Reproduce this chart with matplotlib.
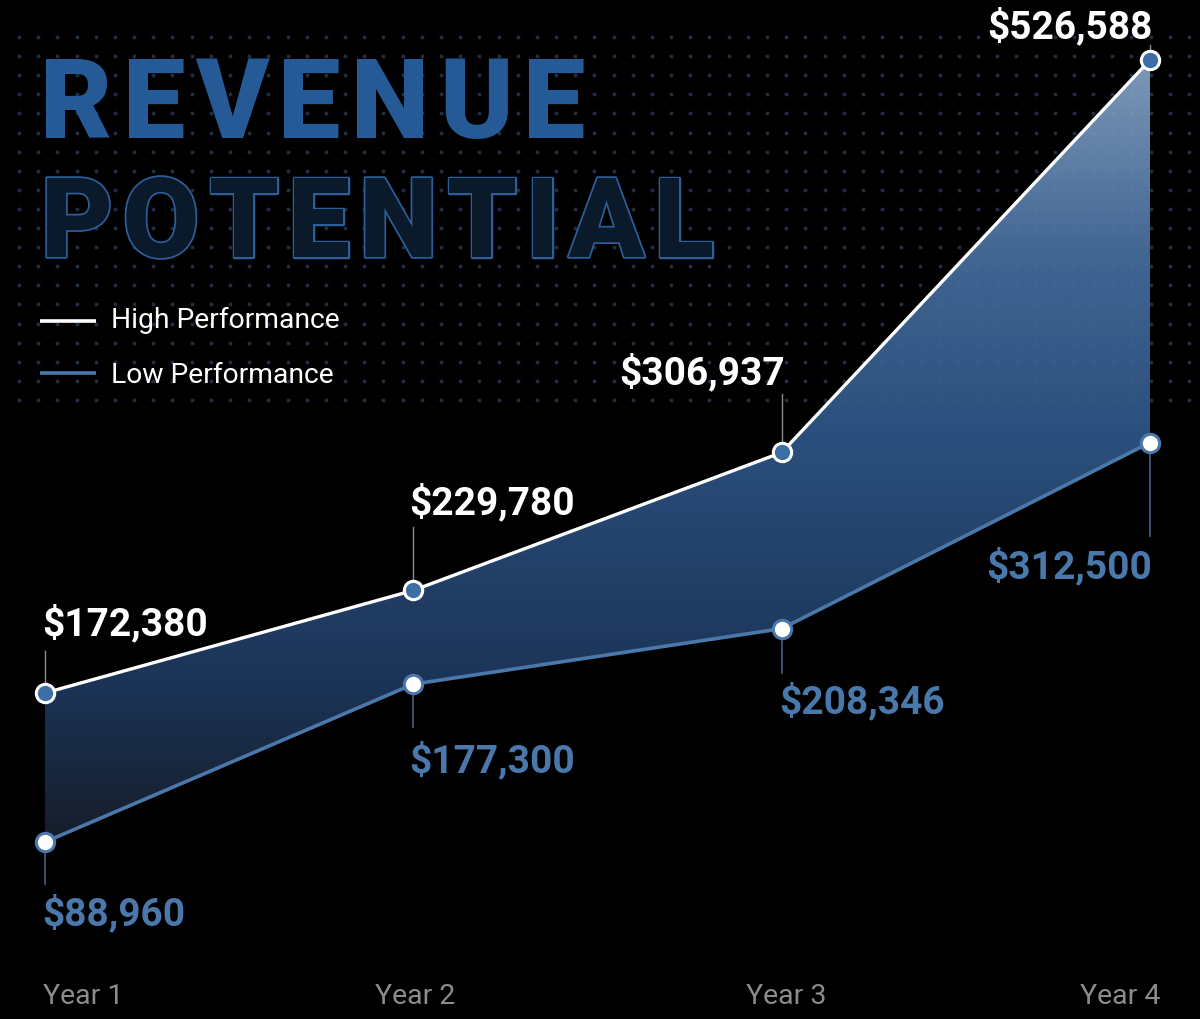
import numpy as np
import matplotlib
matplotlib.use("Agg")
import matplotlib.pyplot as plt
import matplotlib.transforms as mtransforms
import matplotlib.patheffects as pe
from matplotlib.colors import LinearSegmentedColormap
from matplotlib.patches import Polygon

plt.rcParams['font.family'] = ['Roboto', 'DejaVu Sans']

# ---------------- data ----------------
years = ["Year 1", "Year 2", "Year 3", "Year 4"]
high = [172380, 229780, 306937, 526588]
low = [88960, 177300, 208346, 312500]
series_names = ["High Performance", "Low Performance"]
title_lines = ["REVENUE", "POTENTIAL"]

# ---------------- layout / style ----------------
W, H = 1200, 1020
BG = "#000000"
WHITE = "#ffffff"
BLUE = "#4a78ab"
MARK_BLUE = "#3d6ea5"
TITLE_BLUE = "#255a96"
GRAY = "#8c8c8c"

# label offsets in pixels (dx, dy to baseline), and alignment
high_off = [(-3, 59), (-4, 77), (3, 69), (3, 23)]
high_ha = ["left", "left", "right", "right"]
low_off = [(-3, -82), (-4, -87), (-2, -84), (2, -135)]
low_ha = ["left", "left", "left", "right"]
high_lead = [42, 63, 58, 15]
low_lead = [42, 43, 44, 93]

fig = plt.figure(figsize=(W / 100, H / 100), dpi=100, facecolor=BG)

# background axes in pixel coordinates
bg = fig.add_axes([0, 0, 1, 1])
bg.set_xlim(0, W)
bg.set_ylim(H, 0)
bg.axis("off")
bg.set_facecolor(BG)

# dotted grid
dx = np.linspace(19, 1189, 62)
dy = np.arange(38, 402, 19.1)
gx, gy = np.meshgrid(dx, dy)
bg.scatter(gx.ravel(), gy.ravel(), s=8, color="#1f2e42", linewidths=0, zorder=1)

# main axes
ax = fig.add_axes([0, 0, 1, 1], facecolor="none")
ax.axis("off")
ppu_x = (1150 - 45) / 3.0
ax.set_xlim(-45 / ppu_x, (W - 45) / ppu_x)
ppv = (843 - 61) / (526588 - 88960)
ax.set_ylim(88960 - (H - 843) / ppv, 88960 + 843 / ppv)

x = np.arange(len(years))

# gradient fill between lines
ylo, yhi = ax.get_ylim()
def v_of_px(p):
    return 88960 + (843 - p) / ppv
stops_px = [845, 690, 450, 250, 60]
stops_col = ["#19202e", "#1f3a60", "#2f578a", "#4b73a5", "#8cabce"]
vals = [v_of_px(p) for p in stops_px]
pos = [(v - ylo) / (yhi - ylo) for v in vals]
pos = [0.0] + pos + [1.0]
cols = [stops_col[0]] + stops_col + [stops_col[-1]]
cmap = LinearSegmentedColormap.from_list("g", list(zip(pos, cols)))
grad = np.linspace(0, 1, 512).reshape(-1, 1)
xl = ax.get_xlim()
im = ax.imshow(grad, extent=[xl[0], xl[1], ylo, yhi], origin="lower",
               aspect="auto", cmap=cmap, zorder=2, alpha=0.9, interpolation="bilinear")
verts = np.column_stack([np.concatenate([x, x[::-1]]),
                         np.concatenate([high, low[::-1]])])
poly = Polygon(verts, closed=True, facecolor="none", edgecolor="none",
               transform=ax.transData)
ax.add_patch(poly)
im.set_clip_path(poly)
ax.set_xlim(xl)
ax.set_ylim(ylo, yhi)

# leader lines
for i in range(len(years)):
    ax.plot([x[i], x[i]], [high[i], high[i] + high_lead[i] / ppv],
            color="#8a8a8a", lw=1.0, zorder=3)
    ax.plot([x[i], x[i]], [low[i], low[i] - low_lead[i] / ppv],
            color="#3d5878", lw=1.3, zorder=3)

# lines
ax.plot(x, high, color=WHITE, lw=2.4, zorder=4, solid_capstyle="round")
ax.plot(x, low, color=BLUE, lw=2.6, zorder=4, solid_capstyle="round")
ax.scatter(x, high, s=175, color=MARK_BLUE, edgecolors=WHITE, linewidths=2.2, zorder=5)
ax.scatter(x, low, s=175, color=WHITE, edgecolors=BLUE, linewidths=2.2, zorder=5)

# value labels
for i in range(len(years)):
    ax.annotate(f"${high[i]:,}", xy=(x[i], high[i]), xytext=high_off[i],
                textcoords="offset pixels", ha=high_ha[i], va="baseline",
                fontsize=28, fontweight="bold", color=WHITE, zorder=6)
    ax.annotate(f"${low[i]:,}", xy=(x[i], low[i]), xytext=low_off[i],
                textcoords="offset pixels", ha=low_ha[i], va="baseline",
                fontsize=28, fontweight="bold", color=BLUE, zorder=6)

# year labels
trans = mtransforms.blended_transform_factory(ax.transData, bg.transData)
year_ha = ["left", "center", "center", "right"]
year_dx = [-2 / ppu_x, 2 / ppu_x, 5 / ppu_x, 10 / ppu_x]
for i, yl in enumerate(years):
    ax.text(x[i] + year_dx[i], 1004, yl, transform=trans, ha=year_ha[i],
            va="baseline", fontsize=20.5, color=GRAY)

# legend
bg.plot([40, 96], [322, 322], color=WHITE, lw=2.6, solid_capstyle="butt", zorder=3)
bg.plot([40, 96], [374, 374], color=BLUE, lw=2.6, solid_capstyle="butt", zorder=3)
bg.text(111, 328, series_names[0], ha="left", va="baseline", fontsize=20.3, color=WHITE)
bg.text(111, 383, series_names[1], ha="left", va="baseline", fontsize=20.3, color=WHITE)

# title with tracking
fig.canvas.draw()
renderer = fig.canvas.get_renderer()

def tracked(text, x0, x1, base, **kw):
    t = bg.text(x0, base, text, ha="left", va="baseline", **kw)
    nat = t.get_window_extent(renderer).width
    t.remove()
    track = (x1 - x0 - nat) / (len(text) - 1)
    for k, ch in enumerate(text):
        if k == 0:
            off = 0
        else:
            tp = bg.text(0, 0, text[:k + 1], **kw)
            tc = bg.text(0, 0, ch, **kw)
            off = tp.get_window_extent(renderer).width - tc.get_window_extent(renderer).width
            tp.remove(); tc.remove()
        bg.text(x0 + off + k * track, base, ch, ha="left", va="baseline", **kw)

tracked(title_lines[0], 40, 585, 138, fontsize=80, fontweight="black",
        color=TITLE_BLUE, zorder=3)
tracked(title_lines[1], 41, 714, 258, fontsize=80, fontweight="black",
        color="#0b1a2b", zorder=3,
        path_effects=[pe.Stroke(linewidth=2.5, foreground="#2c5e9a"), pe.Normal()])

fig.savefig("out.png", dpi=100, facecolor=BG)
